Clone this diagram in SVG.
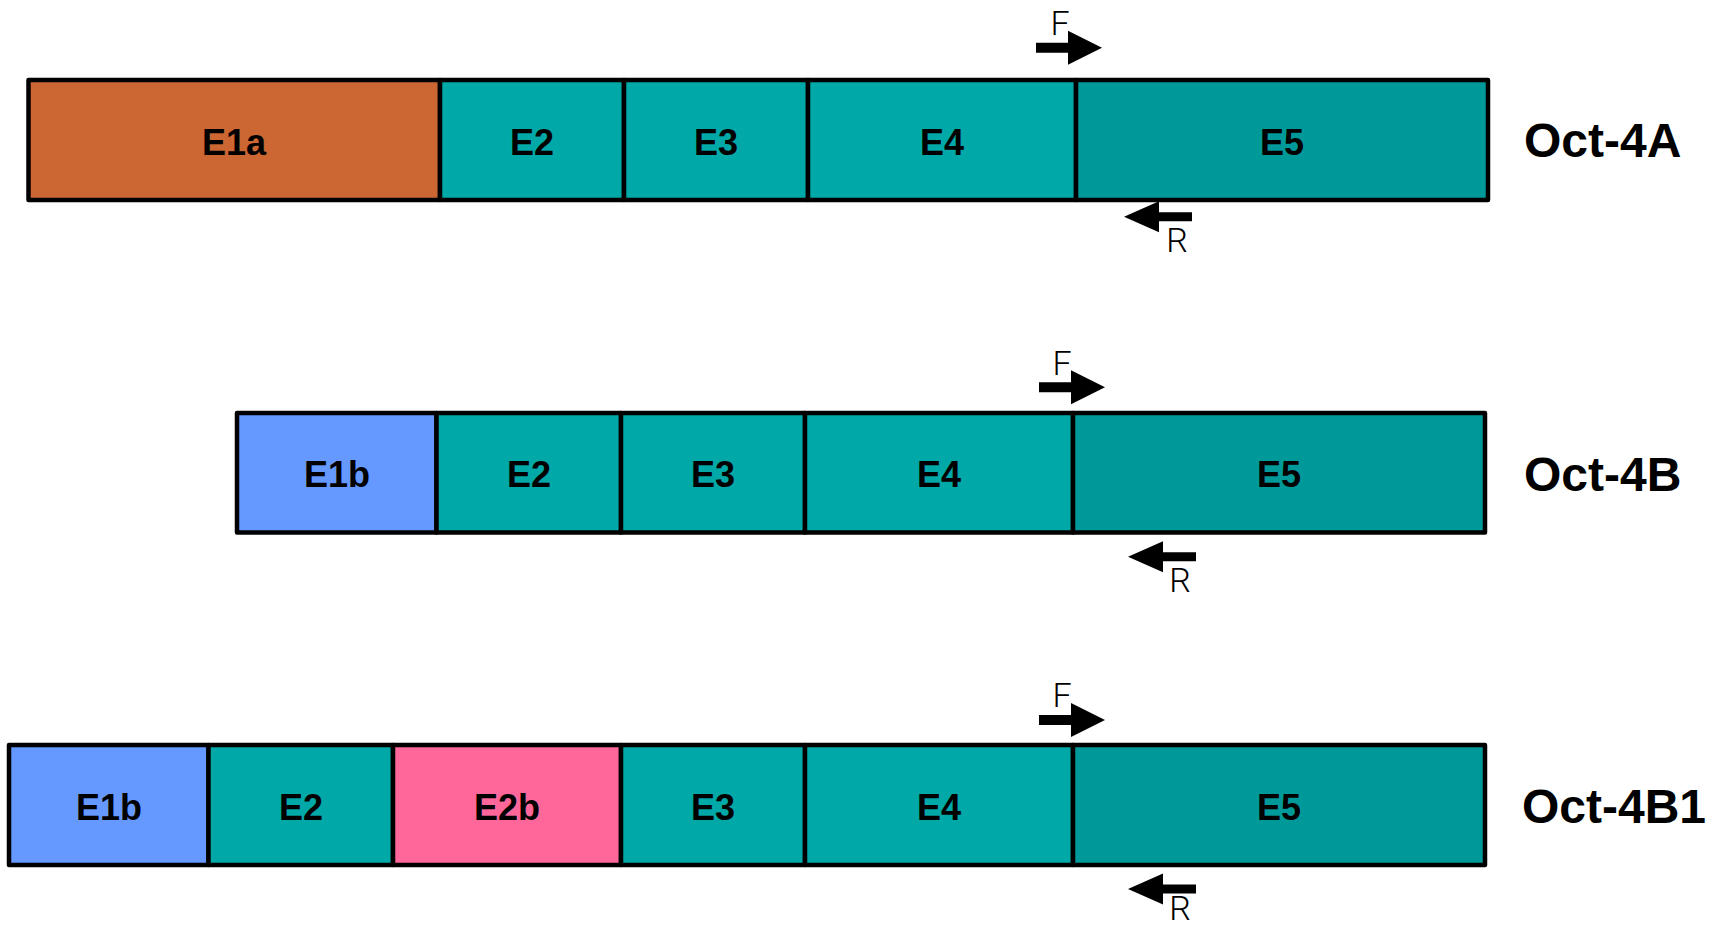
<svg xmlns="http://www.w3.org/2000/svg" width="1720" height="930" viewBox="0 0 1720 930">
<style>
.ex{stroke:#000;stroke-width:4.5;stroke-linejoin:round}
.a{fill:#CC6633}.t{fill:#00A8A8}.t5{fill:#009999}.b{fill:#6699FF}.p{fill:#FF6699}
.lb{font-family:"Liberation Sans",Arial,sans-serif;font-weight:bold;font-size:36px;text-anchor:middle;fill:#000}
.nm{font-family:"Liberation Sans",Arial,sans-serif;font-weight:bold;font-size:48px;fill:#000}
.pr{font-family:Roboto,"Liberation Sans",sans-serif;font-weight:300;font-size:34px;text-anchor:middle;fill:#000}
</style>
<defs>
<path id="fw" d="M0,-5 H32 V-17 L66,0 L32,17 V5 H0 Z" fill="#000"/>
<path id="rv" d="M0,0 L35,-15.5 V-4.5 H68 V4.5 H35 V15.5 Z" fill="#000"/>
</defs>
<rect width="1720" height="930" fill="#fff"/>
<!-- Oct-4A -->
<g id="oct4a">
<g id="a-e1a"><rect class="ex a" x="28.5" y="80" width="411.5" height="120"/><text class="lb" x="234" y="155">E1a</text></g>
<g id="a-e2"><rect class="ex t" x="440" y="80" width="184" height="120"/><text class="lb" x="532" y="155">E2</text></g>
<g id="a-e3"><rect class="ex t" x="624" y="80" width="184" height="120"/><text class="lb" x="716" y="155">E3</text></g>
<g id="a-e4"><rect class="ex t" x="808" y="80" width="268" height="120"/><text class="lb" x="942" y="155">E4</text></g>
<g id="a-e5"><rect class="ex t5" x="1076" y="80" width="412" height="120"/><text class="lb" x="1282" y="155">E5</text></g>
<g id="a-name"><text class="nm" x="1524" y="157">Oct-4A</text></g>
</g>
<!-- Oct-4B -->
<g id="oct4b">
<g id="b-e1b"><rect class="ex b" x="237" y="413" width="199.5" height="119.5"/><text class="lb" x="337" y="487">E1b</text></g>
<g id="b-e2"><rect class="ex t" x="436.5" y="413" width="184.5" height="119.5"/><text class="lb" x="529" y="487">E2</text></g>
<g id="b-e3"><rect class="ex t" x="621" y="413" width="184" height="119.5"/><text class="lb" x="713" y="487">E3</text></g>
<g id="b-e4"><rect class="ex t" x="805" y="413" width="268" height="119.5"/><text class="lb" x="939" y="487">E4</text></g>
<g id="b-e5"><rect class="ex t5" x="1073" y="413" width="412" height="119.5"/><text class="lb" x="1279" y="487">E5</text></g>
<g id="b-name"><text class="nm" x="1524" y="491">Oct-4B</text></g>
</g>
<!-- Oct-4B1 -->
<g id="oct4b1">
<g id="c-e1b"><rect class="ex b" x="9" y="745" width="199.5" height="120"/><text class="lb" x="109" y="820">E1b</text></g>
<g id="c-e2"><rect class="ex t" x="208.5" y="745" width="184.5" height="120"/><text class="lb" x="301" y="820">E2</text></g>
<g id="c-e2b"><rect class="ex p" x="393" y="745" width="228" height="120"/><text class="lb" x="507" y="820">E2b</text></g>
<g id="c-e3"><rect class="ex t" x="621" y="745" width="184" height="120"/><text class="lb" x="713" y="820">E3</text></g>
<g id="c-e4"><rect class="ex t" x="805" y="745" width="268" height="120"/><text class="lb" x="939" y="820">E4</text></g>
<g id="c-e5"><rect class="ex t5" x="1073" y="745" width="412" height="120"/><text class="lb" x="1279" y="820">E5</text></g>
<g id="c-name"><text class="nm" x="1522" y="823">Oct-4B1</text></g>
</g>
<!-- primers -->
<g id="connectors">
<use href="#fw" x="1036" y="47.7"/><text class="pr" x="1060" y="35">F</text>
<use href="#rv" x="1124" y="216.7"/><text class="pr" x="1177" y="252">R</text>
<use href="#fw" x="1039" y="387.3"/><text class="pr" x="1062" y="375">F</text>
<use href="#rv" x="1128" y="556.7"/><text class="pr" x="1180" y="592">R</text>
<use href="#fw" x="1039" y="720"/><text class="pr" x="1062" y="707">F</text>
<use href="#rv" x="1128" y="889"/><text class="pr" x="1180" y="920">R</text>
</g>
</svg>
